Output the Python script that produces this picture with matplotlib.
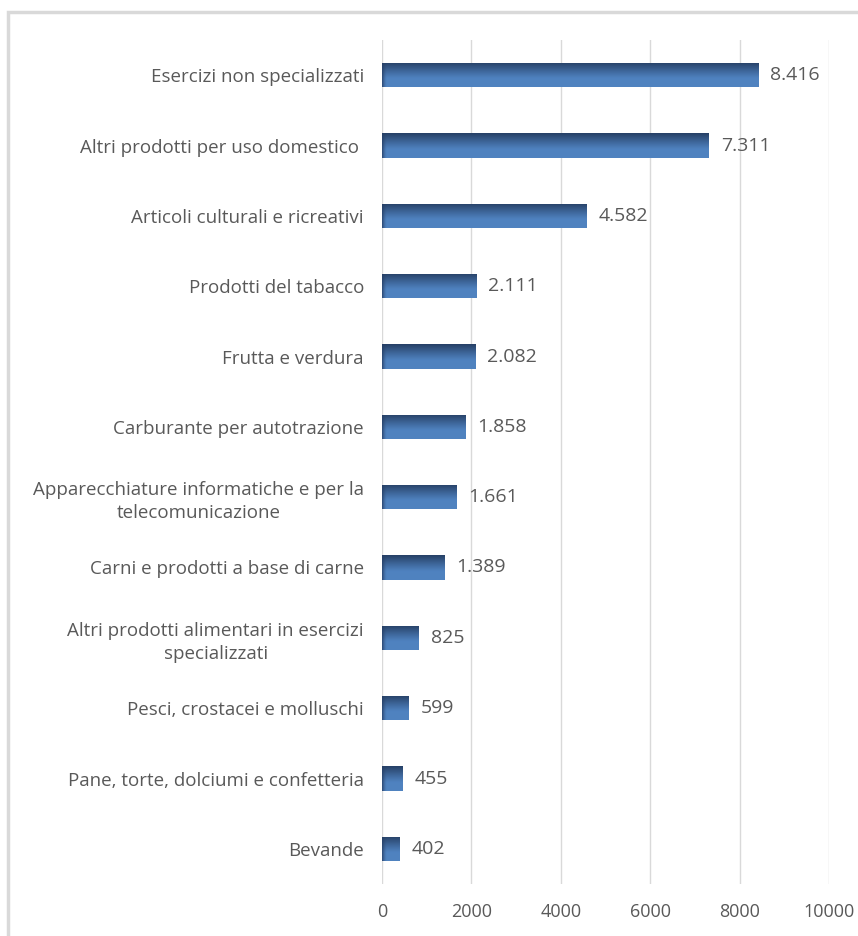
import matplotlib.pyplot as plt
import numpy as np
from matplotlib.patches import Rectangle

# categories, top to bottom
categories = [
    'Esercizi non specializzati',
    'Altri prodotti per uso domestico ',
    'Articoli culturali e ricreativi',
    'Prodotti del tabacco',
    'Frutta e verdura',
    'Carburante per autotrazione',
    'Apparecchiature informatiche e per la\ntelecomunicazione',
    'Carni e prodotti a base di carne',
    'Altri prodotti alimentari in esercizi\nspecializzati',
    'Pesci, crostacei e molluschi',
    'Pane, torte, dolciumi e confetteria',
    'Bevande',
]
values = [8416, 7311, 4582, 2111, 2082, 1858, 1661, 1389, 825, 599, 455, 402]
xticks = [0, 2000, 4000, 6000, 8000, 10000]

plt.rcParams['font.family'] = ['Open Sans', 'DejaVu Sans']
txt = '#595959'

fig = plt.figure(figsize=(8.58, 9.36), dpi=100)
ax = fig.add_axes([382 / 858, 1 - 884 / 936, 447 / 858, 844 / 936])

# outer frame like the spreadsheet chart area
fig.patches.append(Rectangle((8 / 858, -0.01), 1.0, 1 - 12 / 936 + 0.01,
                             transform=fig.transFigure, fill=False,
                             edgecolor='#d9d9d9', linewidth=2.5))

n = len(categories)
ypos = np.arange(n)
h = 0.35

# gradient image: dark top and left edge, lighter body
dark = np.array([0.15, 0.25, 0.40])
light = np.array([0.31, 0.51, 0.75])
gy = np.linspace(0, 1, 60)
wy = np.clip(1 - gy / 0.65, 0, 1) ** 1.1
grad = light[None, :] * (1 - wy[:, None]) + dark[None, :] * wy[:, None]

for y, v in zip(ypos, values):
    bar = ax.barh(y, v, height=h, color='#4a7bb7', zorder=2)[0]
    im = ax.imshow(grad[:, None, :].repeat(2, axis=1), aspect='auto',
                   extent=(0, v, y + h / 2, y - h / 2), zorder=3,
                   interpolation='bilinear')
    im.set_clip_path(bar)
    # dark left edge
    lw = min(v, 110)
    edge = np.linspace(0, 1, 20)
    ew = np.clip(1 - edge, 0, 1) ** 1.5 * 0.85
    eimg = np.zeros((1, 20, 4))
    eimg[0, :, :3] = dark
    eimg[0, :, 3] = ew
    im2 = ax.imshow(eimg, aspect='auto', extent=(0, lw, y + h / 2, y - h / 2),
                    zorder=4, interpolation='bilinear')
    im2.set_clip_path(bar)
    ax.text(v + 270, y, f'{v:,}'.replace(',', '.'), va='center', ha='left',
            fontsize=14, color=txt)

ax.set_xlim(0, 10000)
ax.set_ylim(n - 0.5, -0.5)
ax.set_xticks(xticks)
ax.set_xticklabels([str(t) for t in xticks], fontsize=13, color=txt)
ax.set_yticks(ypos)
ax.set_yticklabels(categories, fontsize=13.5, color=txt,
                   multialignment='center', linespacing=1.35)
ax.tick_params(axis='both', length=0)
ax.tick_params(axis='y', pad=13)
ax.tick_params(axis='x', pad=14)
ax.grid(axis='x', color='#d9d9d9', linewidth=1, zorder=0)
ax.set_axisbelow(True)
for s in ax.spines.values():
    s.set_visible(False)

fig.savefig('out.png', dpi=100)
